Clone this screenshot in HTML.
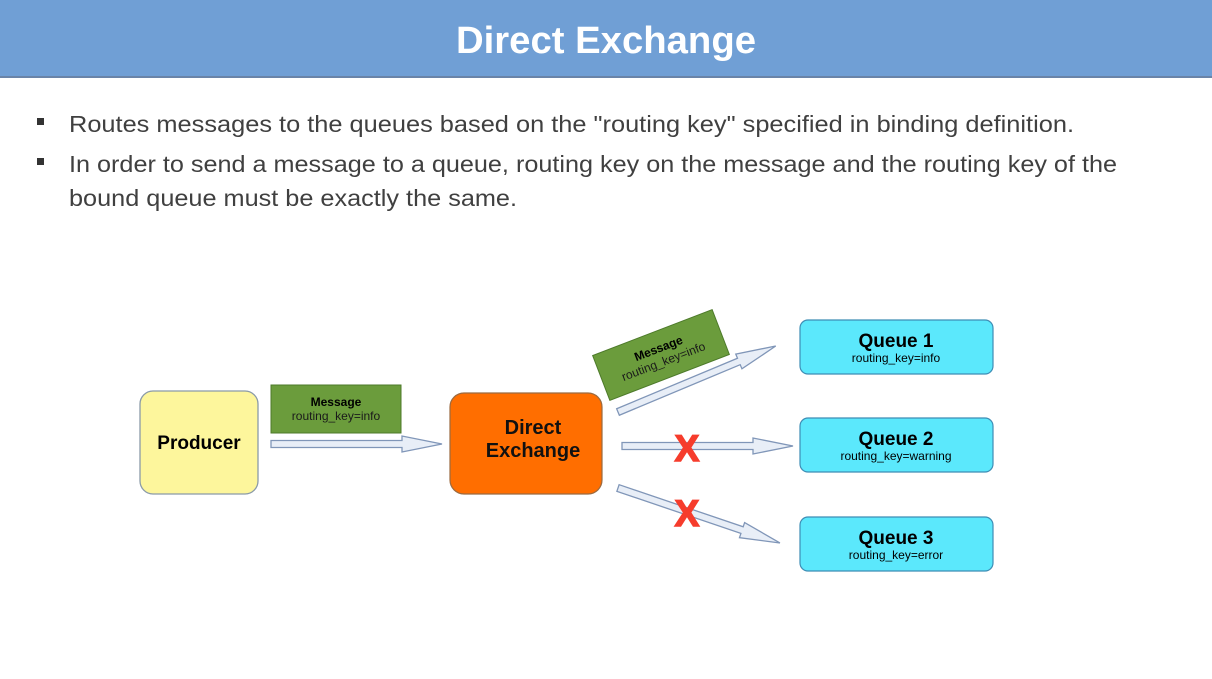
<!DOCTYPE html>
<html><head><meta charset="utf-8"><style>
html,body{margin:0;padding:0;background:#fff;width:1212px;height:679px;overflow:hidden}
</style></head><body>
<svg width="1212" height="679" viewBox="0 0 1212 679" xmlns="http://www.w3.org/2000/svg" font-family="Liberation Sans, DejaVu Sans, sans-serif">
<rect x="0" y="0" width="1212" height="77" fill="#709fd5"/>
<rect x="0" y="76" width="1212" height="2" fill="#6a84a8"/>
<text x="606" y="53" text-anchor="middle" font-size="38" font-weight="bold" fill="#fff" textLength="300" lengthAdjust="spacingAndGlyphs">Direct Exchange</text>
<g fill="#404040" font-size="23">
<rect x="37" y="118" width="7" height="7" fill="#333"/>
<rect x="37" y="158" width="7" height="7" fill="#333"/>
<text x="69" y="132" textLength="1005" lengthAdjust="spacingAndGlyphs">Routes messages to the queues based on the "routing key" specified in binding definition.</text>
<text x="69" y="172" textLength="1048" lengthAdjust="spacingAndGlyphs">In order to send a message to a queue, routing key on the message and the routing key of the</text>
<text x="69" y="206" textLength="448" lengthAdjust="spacingAndGlyphs">bound queue must be exactly the same.</text>
</g>
<defs>
<polygon id="ar" points="0,-3.5 131,-3.5 131,-8 171,0 131,8 131,3.5 0,3.5" fill="#e8eef7" stroke="#8096b8" stroke-width="1.3"/>
</defs>
<use href="#ar" transform="translate(271,444)"/>
<use href="#ar" transform="translate(618,412) rotate(-22.7)"/>
<use href="#ar" transform="translate(622,446)"/>
<use href="#ar" transform="translate(618,488) rotate(18.75)"/>
<rect x="140" y="391" width="118" height="103" rx="13" fill="#fdf69c" stroke="#8a9aa8" stroke-width="1.3"/>
<text x="199" y="449" text-anchor="middle" font-size="19" font-weight="bold" fill="#000">Producer</text>
<rect x="271" y="385" width="130" height="48" fill="#6b9c3c" stroke="#4d7a2a" stroke-width="1"/>
<text x="336" y="406" text-anchor="middle" font-size="12" font-weight="bold" fill="#000">Message</text>
<text x="336" y="420" text-anchor="middle" font-size="12" fill="#1a1a1a">routing_key=info</text>
<rect x="450" y="393" width="152" height="101" rx="14" fill="#ff6e00" stroke="#9a6a40" stroke-width="1.2"/>
<text x="533" y="434" text-anchor="middle" font-size="20" font-weight="bold" fill="#111">Direct</text>
<text x="533" y="457" text-anchor="middle" font-size="20" font-weight="bold" fill="#111">Exchange</text>
<g transform="translate(661,355) rotate(-21)">
<rect x="-64" y="-24" width="128" height="48" fill="#6b9c3c" stroke="#4d7a2a"/>
<text x="0" y="-3" text-anchor="middle" font-size="12" font-weight="bold" fill="#000">Message</text>
<text x="0" y="11" text-anchor="middle" font-size="12" fill="#1a1a1a">routing_key=info</text>
</g>
<g font-weight="bold" fill="#f63c2c" stroke="#f63c2c" stroke-width="1.5" font-size="37" text-anchor="middle">
<text x="687" y="461">X</text>
<text x="687" y="526">X</text>
</g>
<g stroke="#3e8db5" stroke-width="1.2" fill="#5be8fc">
<rect x="800" y="320" width="193" height="54" rx="8"/>
<rect x="800" y="418" width="193" height="54" rx="8"/>
<rect x="800" y="517" width="193" height="54" rx="8"/>
</g>
<g text-anchor="middle" fill="#000">
<text x="896" y="347" font-size="19" font-weight="bold">Queue 1</text>
<text x="896" y="362" font-size="12">routing_key=info</text>
<text x="896" y="445" font-size="19" font-weight="bold">Queue 2</text>
<text x="896" y="460" font-size="12">routing_key=warning</text>
<text x="896" y="544" font-size="19" font-weight="bold">Queue 3</text>
<text x="896" y="559" font-size="12">routing_key=error</text>
</g>
</svg>
</body></html>
